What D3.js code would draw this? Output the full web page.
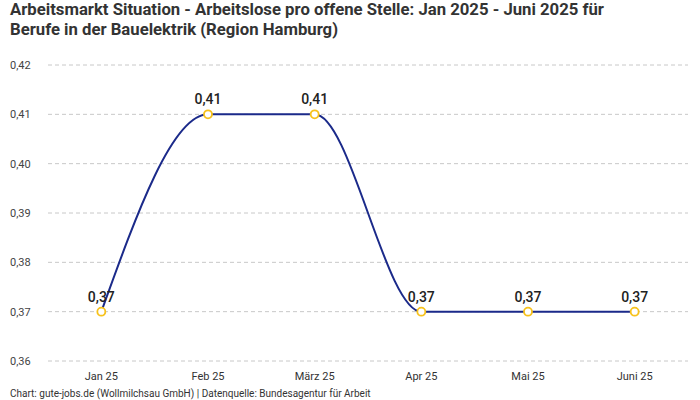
<!DOCTYPE html>
<html lang="de">
<head>
<meta charset="UTF-8">
<title>Arbeitsmarkt Situation</title>
<style>
  body { margin: 0; background: #fff; }
  svg { font-family: Roboto, "Noto Sans", sans-serif; }
</style>
</head>
<body>
<div id="container"></div>
<script src="https://cdn.jsdelivr.net/npm/d3@7"></script>
<script>
    const months = ['Jan 25', 'Feb 25', 'März 25', 'Apr 25', 'Mai 25', 'Juni 25']
    const values = [0.37, 0.41, 0.41, 0.37, 0.37, 0.37]
    const yTicks = [0.36, 0.37, 0.38, 0.39, 0.40, 0.41, 0.42]

    const width = 700
    const height = 400
    const plotLeft = 48
    const plotRight = 688
    const plotTop = 65
    const plotBottom = 361

    const lineColor = '#1b2a8a'
    const pointColor = '#f7c21c'
    const gridColor = '#c8c8c8'

    const fmt = v => d3.format('.2f')(v).replace('.', ',')

    const svg = d3.select('#container').append('svg')
        .attr('width', width)
        .attr('height', height)

    const x = d3.scalePoint().domain(months).range([plotLeft, plotRight]).padding(0.5)
    const y = d3.scaleLinear().domain([0.36, 0.42]).range([plotBottom, plotTop])

    // title
    svg.append('text')
        .attr('x', 10).attr('y', 15)
        .attr('font-size', '16px').attr('font-weight', 'bold')
        .attr('fill', '#333')
        .attr('textLength', 594).attr('lengthAdjust', 'spacingAndGlyphs')
        .text('Arbeitsmarkt Situation - Arbeitslose pro offene Stelle: Jan 2025 - Juni 2025 für')
    svg.append('text')
        .attr('x', 10).attr('y', 35)
        .attr('font-size', '16px').attr('font-weight', 'bold')
        .attr('fill', '#333')
        .attr('textLength', 328).attr('lengthAdjust', 'spacingAndGlyphs')
        .text('Berufe in der Bauelektrik (Region Hamburg)')

    // grid
    svg.append('g')
        .selectAll('line')
        .data(yTicks)
        .enter()
        .append('line')
        .attr('x1', plotLeft).attr('x2', plotRight)
        .attr('y1', d => y(d)).attr('y2', d => y(d))
        .attr('stroke', gridColor)
        .attr('stroke-dasharray', '4,3')

    // y axis labels
    svg.append('g')
        .selectAll('text')
        .data(yTicks)
        .enter()
        .append('text')
        .attr('x', 10)
        .attr('y', d => y(d) + 4)
        .attr('font-size', '11px')
        .attr('fill', '#444')
        .text(d => fmt(d))

    // x axis labels
    svg.append('g')
        .selectAll('text')
        .data(months)
        .enter()
        .append('text')
        .attr('x', d => x(d))
        .attr('y', 380)
        .attr('text-anchor', 'middle')
        .attr('font-size', '11px')
        .attr('fill', '#333')
        .text(d => d)

    const pts = months.map((m, i) => ({m: m, v: values[i]}))

    const lineGen = d3.line().x(d => x(d.m)).y(d => y(d.v)).curve(d3.curveMonotoneX)
    svg.append('path')
        .attr('d', lineGen(pts))
        .attr('fill', 'none')
        .attr('stroke', lineColor)
        .attr('stroke-width', 2)

    svg.append('g')
        .selectAll('circle')
        .data(pts)
        .enter()
        .append('circle')
        .attr('cx', d => x(d.m))
        .attr('cy', d => y(d.v))
        .attr('r', 4)
        .attr('fill', '#fff')
        .attr('stroke', pointColor)
        .attr('stroke-width', 1.8)

    svg.append('g')
        .selectAll('text')
        .data(pts)
        .enter()
        .append('text')
        .attr('x', d => x(d.m))
        .attr('y', d => y(d.v) - 10)
        .attr('text-anchor', 'middle')
        .attr('font-size', '14px')
        .attr('font-weight', 500)
        .attr('fill', '#222')
        .text(d => fmt(d.v))

    // footer
    svg.append('text')
        .attr('x', 10).attr('y', 397)
        .attr('font-size', '10px')
        .attr('fill', '#333')
        .text('Chart: gute-jobs.de (Wollmilchsau GmbH) | Datenquelle: Bundesagentur für Arbeit')
</script>
</body>
</html>
